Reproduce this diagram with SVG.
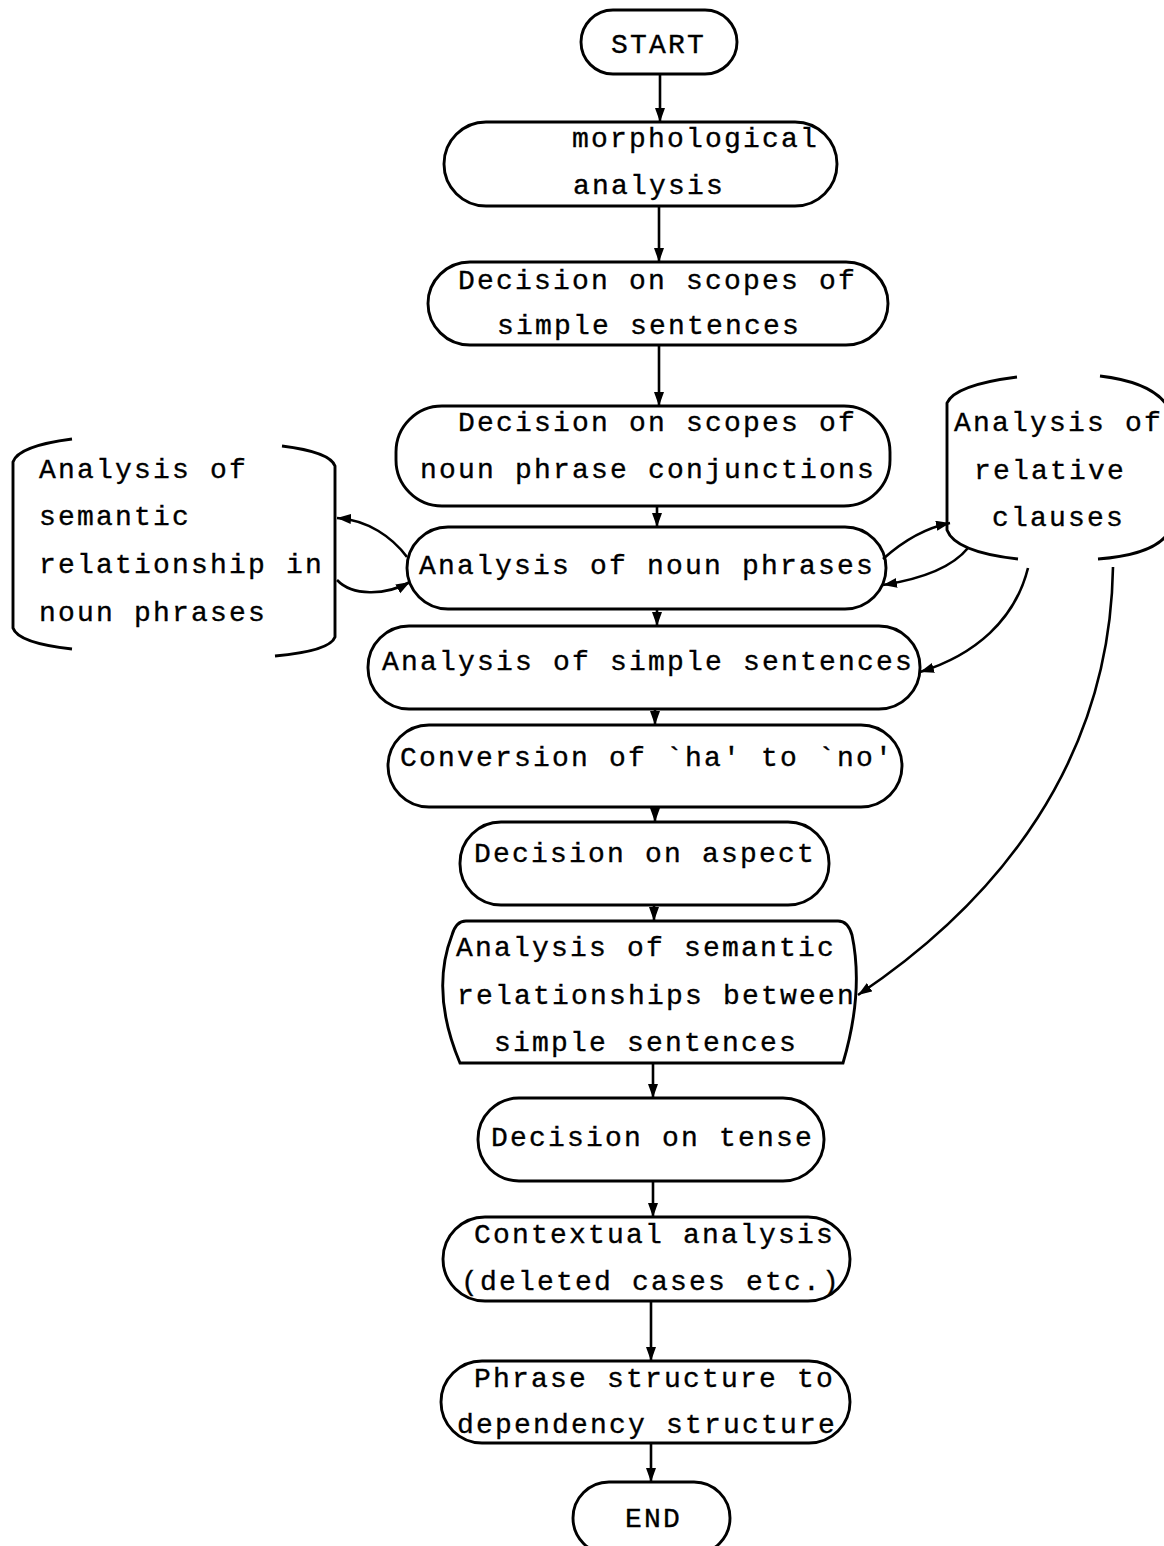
<svg xmlns="http://www.w3.org/2000/svg" width="1164" height="1546" viewBox="0 0 1164 1546">
<style>
.box{fill:none;stroke:#000;stroke-width:2.9}
.ln{fill:none;stroke:#000;stroke-width:2.6}
text{font-family:"Liberation Mono","Courier New",monospace;font-size:28px;letter-spacing:2.2px;fill:#000;stroke:#000;stroke-width:0.35}
</style>
<defs>
<marker id="ah" markerUnits="userSpaceOnUse" markerWidth="15" markerHeight="11" refX="14" refY="5" orient="auto">
<path d="M0,0 L14,5 L0,10 z" fill="#000"/>
</marker>
</defs>
<rect width="1164" height="1546" fill="#fff"/>

<g id="connectors">
<path class="ln" marker-end="url(#ah)" d="M660,74 L660,122"/>
<path class="ln" marker-end="url(#ah)" d="M659,206 L659,262"/>
<path class="ln" marker-end="url(#ah)" d="M659,345 L659,406"/>
<path class="ln" marker-end="url(#ah)" d="M657,506 L657,527"/>
<path class="ln" marker-end="url(#ah)" d="M657,609 L657,626"/>
<path class="ln" marker-end="url(#ah)" d="M655,709 L655,725"/>
<path class="ln" marker-end="url(#ah)" d="M655,807 L655,822"/>
<path class="ln" marker-end="url(#ah)" d="M654,905 L654,921"/>
<path class="ln" marker-end="url(#ah)" d="M653,1063 L653,1098"/>
<path class="ln" marker-end="url(#ah)" d="M653,1181 L653,1217"/>
<path class="ln" marker-end="url(#ah)" d="M651,1301 L651,1361"/>
<path class="ln" marker-end="url(#ah)" d="M651,1443 L651,1482"/>
<path class="ln" marker-end="url(#ah)" d="M407,557 C392,537 368,520 337,518"/>
<path class="ln" marker-end="url(#ah)" d="M337,580 C352,596 385,596 410,582"/>
<path class="ln" marker-end="url(#ah)" d="M883,559 C903,541 925,528 950,523"/>
<path class="ln" marker-end="url(#ah)" d="M968,548 C950,570 915,580 883,585"/>
<path class="ln" marker-end="url(#ah)" d="M1028,568 C1015,620 975,655 920,672"/>
<path class="ln" marker-end="url(#ah)" d="M1113,567 C1110,760 1000,900 858,995"/>
</g>

<g id="start"><rect class="box" x="581" y="10" width="156" height="64" rx="32"/><text x="611" y="53">START</text></g>
<g id="morph"><rect class="box" x="444" y="122" width="393" height="84" rx="42"/><text x="572" y="147">morphological</text><text x="573" y="194">analysis</text></g>
<g id="scopes-simple"><rect class="box" x="428" y="262" width="460" height="83" rx="42"/><text x="458" y="289">Decision on scopes of</text><text x="497" y="334">simple sentences</text></g>
<g id="scopes-np"><rect class="box" x="396" y="406" width="494" height="100" rx="46"/><text x="458" y="431">Decision on scopes of</text><text x="420" y="478">noun phrase conjunctions</text></g>
<g id="np"><rect class="box" x="407" y="527" width="479" height="82" rx="41"/><text x="419" y="574">Analysis of noun phrases</text></g>
<g id="simple"><rect class="box" x="368" y="626" width="552" height="83" rx="41"/><text x="382" y="670">Analysis of simple sentences</text></g>
<g id="conv"><rect class="box" x="388" y="725" width="514" height="82" rx="41"/><text x="400" y="766">Conversion of `ha' to `no'</text></g>
<g id="aspect"><rect class="box" x="460" y="822" width="369" height="83" rx="41"/><text x="474" y="862">Decision on aspect</text></g>
<g id="semantic"><path class="box" d="M466,921 L838,921 Q848,921 852,935 Q864,992 843,1063 L460,1063 Q430,992 452,935 Q456,921 466,921 Z"/><text x="456" y="956">Analysis of semantic</text><text x="457" y="1004">relationships between</text><text x="494" y="1051">simple sentences</text></g>
<g id="tense"><rect class="box" x="478" y="1098" width="346" height="83" rx="41"/><text x="491" y="1146">Decision on tense</text></g>
<g id="context"><rect class="box" x="443" y="1217" width="407" height="84" rx="42"/><text x="474" y="1243">Contextual analysis</text><text x="461" y="1290">(deleted cases etc.)</text></g>
<g id="phrase"><rect class="box" x="441" y="1361" width="409" height="82" rx="41"/><text x="474" y="1387">Phrase structure to</text><text x="457" y="1433">dependency structure</text></g>
<g id="end"><rect class="box" x="573" y="1482" width="157" height="72" rx="36"/><text x="625" y="1527">END</text></g>

<g id="np-semantic">
<path class="box" d="M72,439 Q18,446 13,462 L13,628 Q18,643 72,649"/>
<path class="box" d="M282,446 Q330,452 335,466 L335,637 Q330,651 275,656"/>
<text x="39" y="478">Analysis of</text><text x="39" y="525">semantic</text><text x="39" y="573">relationship in</text><text x="39" y="621">noun phrases</text>
</g>
<g id="relative">
<path class="box" d="M1017,377 Q955,385 947,403 L947,530 Q955,552 1018,559"/>
<path class="box" d="M1100,376 Q1150,382 1166,404 L1166,536 Q1150,555 1098,559"/>
<text x="954" y="431">Analysis of</text><text x="974" y="479">relative</text><text x="992" y="526">clauses</text>
</g>
</svg>
